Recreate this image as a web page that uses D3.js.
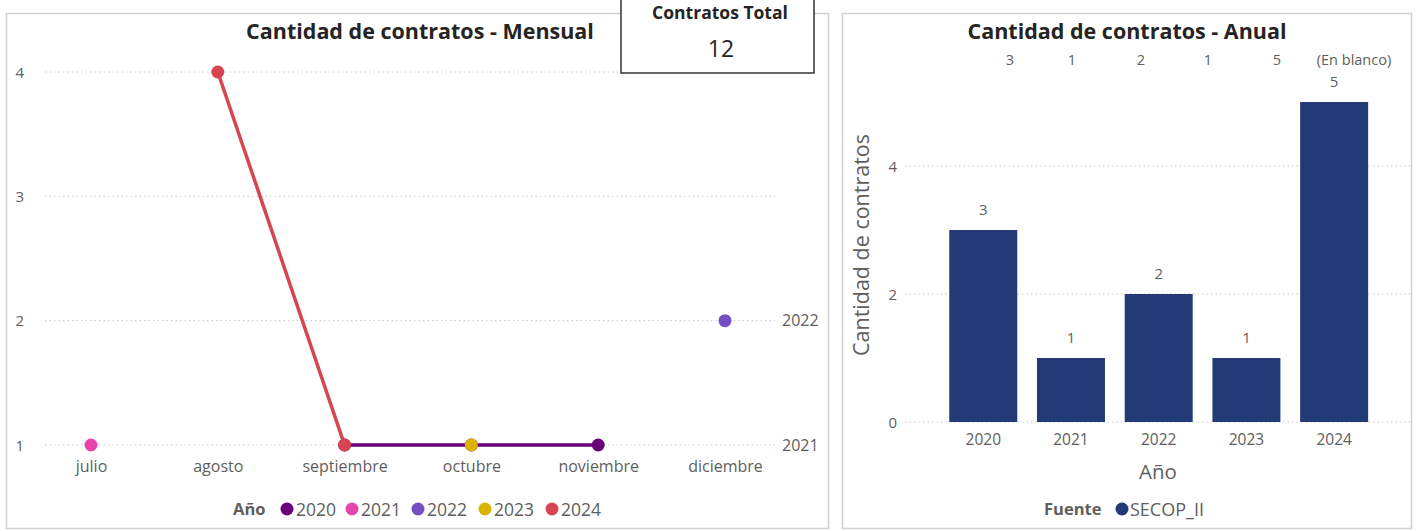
<!DOCTYPE html>
<html><head><meta charset="utf-8">
<script src="https://cdn.jsdelivr.net/npm/d3@7"></script>
<style>
body{margin:0;background:#fff;}
svg{display:block;font-family:"Open Sans",sans-serif;}
</style></head>
<body><svg id="c" width="1416" height="531"></svg>
<script>
// ---- Data ----
const months = ["julio","agosto","septiembre","octubre","noviembre","diciembre"];
const years = ["2020","2021","2022","2023","2024"];
const yearColors = ["#6B007B","#E645AB","#744EC2","#D9B300","#D64550"];
const monthly2020 = [null,null,1,1,1,null];
const monthly2021 = [1,null,null,null,null,null];
const monthly2022 = [null,null,null,null,null,2];
const monthly2023 = [null,null,null,1,null,null];
const monthly2024 = [null,4,1,null,null,null];
const monthlySeries = [monthly2020,monthly2021,monthly2022,monthly2023,monthly2024];
const monthlyTicks = [1,2,3,4];
const rightLabels = [{v:2,t:"2022"},{v:1,t:"2021"}];
const annualValues = [3,1,2,1,5];
const annualTicks = [0,2,4];
const topRowLabels = ["3","1","2","1","5","(En blanco)"];
const totalContracts = 12;

const svg = d3.select("#c");
const TXT = "#605E5C", DARK = "#252423";

// ---- Panels ----
svg.append("rect").attr("x",6.5).attr("y",13.5).attr("width",822).attr("height",515)
  .attr("fill","#fff").attr("stroke","#d0d0d0").attr("stroke-width",1.5);
svg.append("rect").attr("x",842.5).attr("y",13.5).attr("width",569).attr("height",515)
  .attr("fill","#fff").attr("stroke","#d0d0d0").attr("stroke-width",1.5);

// ---- Left chart ----
const x = d3.scalePoint().domain(months).range([91,725]);
const y = d3.scaleLinear().domain([1,4]).range([445,72]);

svg.append("text").attr("x",420).attr("y",39).attr("text-anchor","middle")
  .attr("font-size",21.5).attr("font-weight",700).attr("fill",DARK)
  .text("Cantidad de contratos - Mensual");

const gl = svg.append("g");
gl.selectAll("line.grid").data(monthlyTicks).join("line")
  .attr("x1",45).attr("x2",775).attr("y1",d=>y(d)).attr("y2",d=>y(d))
  .attr("stroke","#c8c8c8").attr("stroke-dasharray","1.5,3");
const ga = svg.append("g").attr("transform","translate(27,0)")
  .call(d3.axisLeft(y).tickValues(monthlyTicks).tickSize(0).tickFormat(d3.format("d")));
ga.select(".domain").remove();
ga.selectAll("text").attr("font-size",15).attr("fill",TXT).attr("font-family","Open Sans").attr("dy","0.35em");

const gx = svg.append("g").attr("transform","translate(0,458)").call(d3.axisBottom(x).tickSize(0));
gx.select(".domain").remove();
gx.selectAll("text").attr("font-size",16).attr("fill",TXT).attr("font-family","Open Sans").attr("dy","0.71em");

gl.selectAll("text.rl").data(rightLabels).join("text")
  .attr("x",782).attr("y",d=>y(d.v)).attr("dy","0.35em")
  .attr("font-size",16).attr("fill",TXT).text(d=>d.t);

const line = d3.line().defined(d=>d.v!==null).x(d=>x(d.m)).y(d=>y(d.v));
monthlySeries.forEach((s,i)=>{
  const pts = s.map((v,j)=>({m:months[j],v}));
  svg.append("path").datum(pts).attr("d",line).attr("fill","none")
    .attr("stroke",yearColors[i]).attr("stroke-width",3.5);
});
monthlySeries.forEach((s,i)=>{
  const pts = s.map((v,j)=>({m:months[j],v})).filter(d=>d.v!==null);
  svg.append("g").selectAll("circle").data(pts).join("circle")
    .attr("cx",d=>x(d.m)).attr("cy",d=>y(d.v)).attr("r",6.5)
    .attr("fill",yearColors[i]);
});

// legend left
const lg = svg.append("g");
lg.append("text").attr("x",233).attr("y",515).attr("font-size",16.5).attr("font-weight",700)
  .attr("fill",TXT).text("Año");
const legX = [287,352,418,485,552];
years.forEach((yr,i)=>{
  lg.append("circle").attr("cx",legX[i]).attr("cy",509).attr("r",6.5).attr("fill",yearColors[i]);
  lg.append("text").attr("x",legX[i]+9).attr("y",515.5).attr("font-size",17.5).attr("fill",TXT).text(yr);
});

// ---- Card ----
svg.append("rect").attr("x",621).attr("y",-1).attr("width",193).attr("height",74)
  .attr("fill","#fff").attr("stroke","#333").attr("stroke-width",1.5);
svg.append("text").attr("x",720).attr("y",19).attr("text-anchor","middle")
  .attr("font-size",17.5).attr("font-weight",700).attr("fill",DARK).text("Contratos Total");
svg.append("text").attr("x",721).attr("y",57).attr("text-anchor","middle")
  .attr("font-size",23).attr("fill",DARK).text(totalContracts);

// ---- Right chart ----
const xb = d3.scaleBand().domain(years).range([939.4,1378]).paddingInner(0.225).paddingOuter(0.1125);
const yb = d3.scaleLinear().domain([0,5]).range([422,102]);

svg.append("text").attr("x",1127).attr("y",39).attr("text-anchor","middle")
  .attr("font-size",21.5).attr("font-weight",700).attr("fill",DARK)
  .text("Cantidad de contratos - Anual");

const topX = [1010,1072,1141,1208,1277,1354];
svg.append("g").selectAll("text").data(topRowLabels).join("text")
  .attr("x",(d,i)=>topX[i]).attr("y",65).attr("text-anchor","middle")
  .attr("font-size",14.5).attr("fill",TXT).text(d=>d);

svg.append("g").selectAll("line").data(annualTicks).join("line")
  .attr("x1",905).attr("x2",1410).attr("y1",d=>yb(d)).attr("y2",d=>yb(d))
  .attr("stroke","#c8c8c8").attr("stroke-dasharray","1.5,3");

const gyb = svg.append("g").attr("transform","translate(900,0)")
  .call(d3.axisLeft(yb).tickValues(annualTicks).tickSize(0).tickFormat(d3.format("d")));
gyb.select(".domain").remove();
gyb.selectAll("text").attr("font-size",15).attr("fill",TXT).attr("font-family","Open Sans").attr("dy","0.35em");

svg.append("g").selectAll("rect").data(annualValues).join("rect")
  .attr("x",(d,i)=>xb(years[i])).attr("width",xb.bandwidth())
  .attr("y",d=>yb(d)).attr("height",d=>yb(0)-yb(d))
  .attr("fill","#223A75");

svg.append("g").selectAll("text").data(annualValues).join("text")
  .attr("x",(d,i)=>xb(years[i])+xb.bandwidth()/2).attr("y",d=>yb(d)-15)
  .attr("text-anchor","middle").attr("font-size",15).attr("fill",TXT).text(d=>d);

const gxb = svg.append("g").attr("transform","translate(0,431)")
  .call(d3.axisBottom(xb).tickSize(0));
gxb.select(".domain").remove();
gxb.selectAll("text").attr("font-size",15.5).attr("fill",TXT).attr("font-family","Open Sans").attr("dy","0.71em");

svg.append("text").attr("x",1158).attr("y",479).attr("text-anchor","middle")
  .attr("font-size",20.5).attr("fill",TXT).text("Año");
svg.append("text").attr("transform","translate(869,245) rotate(-90)").attr("text-anchor","middle")
  .attr("font-size",21.5).attr("fill",TXT).text("Cantidad de contratos");

svg.append("text").attr("x",1044).attr("y",515).attr("font-size",16.5).attr("font-weight",700)
  .attr("fill",TXT).text("Fuente");
svg.append("circle").attr("cx",1122).attr("cy",509).attr("r",6.5).attr("fill","#223A75");
svg.append("text").attr("x",1130).attr("y",515.5).attr("font-size",18).attr("fill",TXT).text("SECOP_II");
</script></body></html>
